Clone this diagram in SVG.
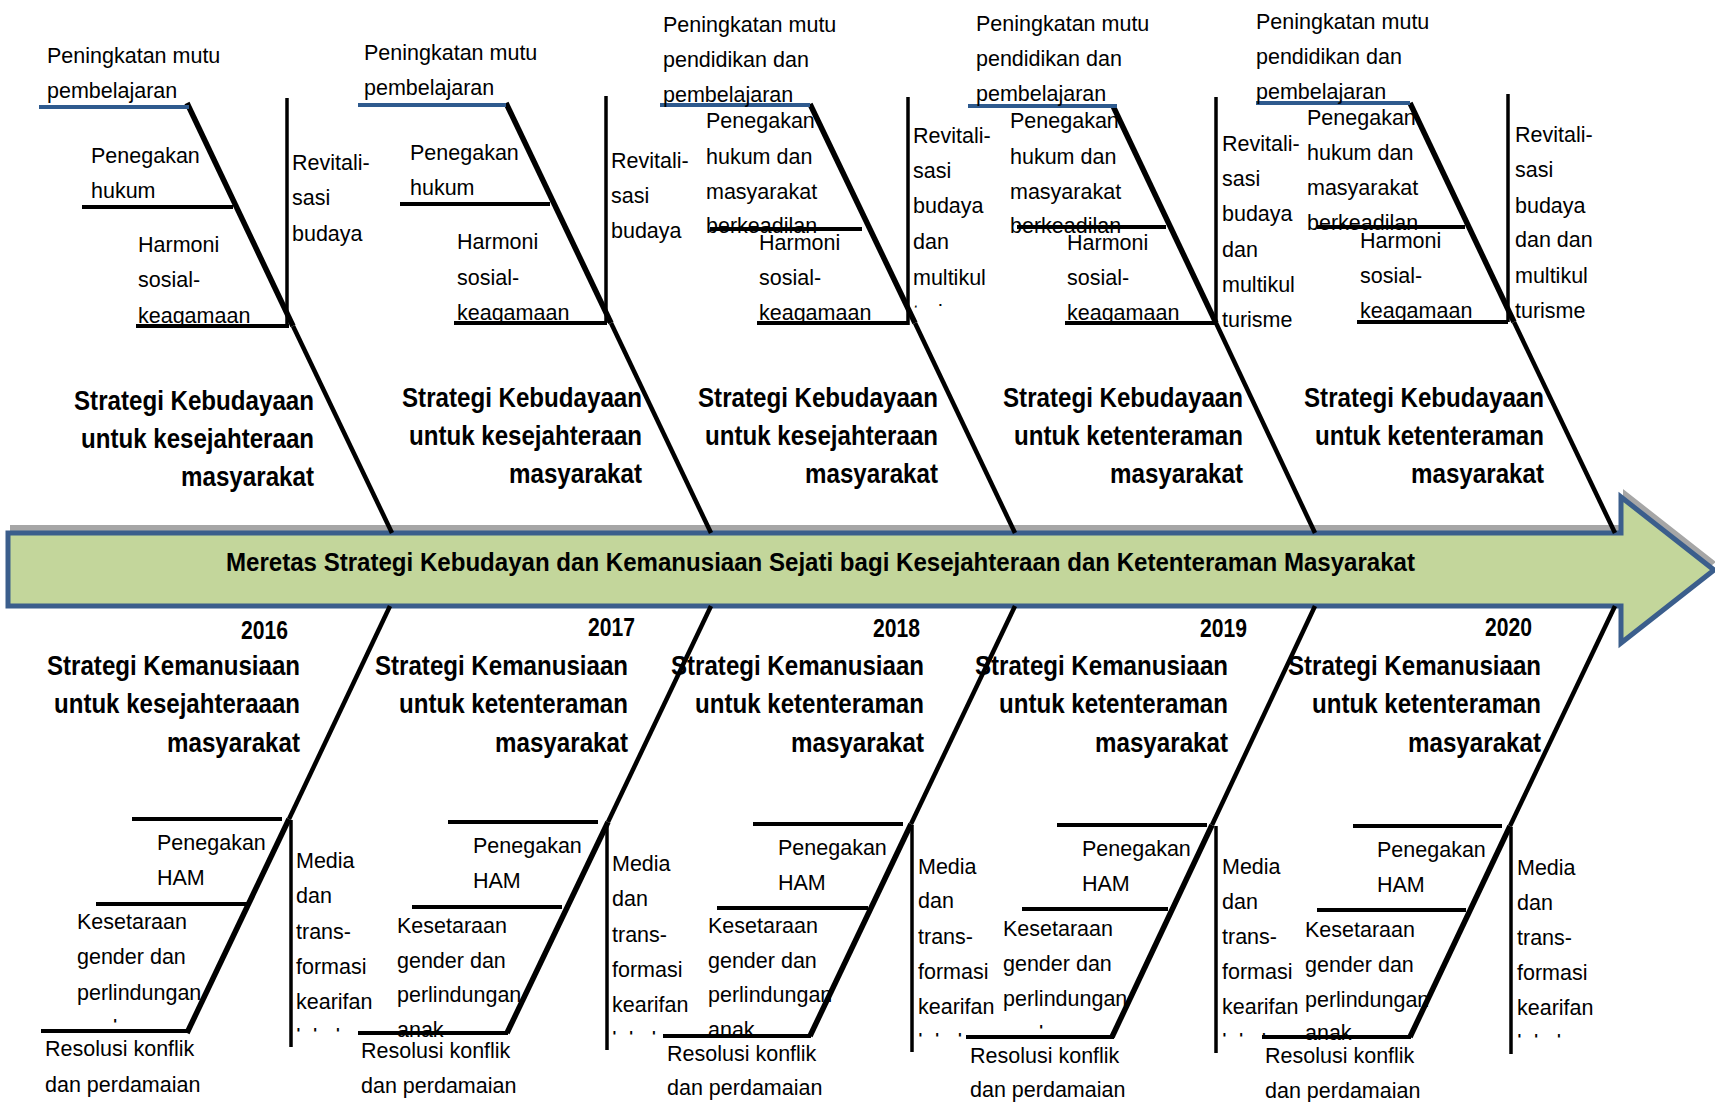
<svg xmlns="http://www.w3.org/2000/svg" width="1715" height="1102" viewBox="0 0 1715 1102">
<style>
.t{font-family:"Liberation Sans",Arial,sans-serif;font-size:21.5px;fill:#000}
.b{font-family:"Liberation Sans",Arial,sans-serif;font-size:27px;font-weight:bold;fill:#000}
.y{font-family:"Liberation Sans",Arial,sans-serif;font-size:25px;font-weight:bold;fill:#000}
.m{font-family:"Liberation Sans",Arial,sans-serif;font-size:25px;font-weight:bold;fill:#000}
.cut{clip-path:url(#top)}
.thick{stroke:#000;stroke-width:5.5;fill:none}
.thin{stroke:#000;stroke-width:4.5;fill:none}
.br{stroke:#000;stroke-width:4;fill:none}
.v{stroke:#000;stroke-width:3.5;fill:none}
.blue{stroke:#2E5A8E;stroke-width:4;fill:none}
</style>
<defs>
<clipPath id="top" clipPathUnits="objectBoundingBox"><rect x="0" y="0" width="1" height="0.27"/></clipPath>
</defs>
<rect width="1715" height="1102" fill="#fff"/>

<g id="spine">
<polygon points="8,533 1621,533 1621,497 1714,570 1621,643 1621,606 8,606" fill="#A6A6A6" transform="translate(2,-8)"/>
<polygon points="8,533 1621,533 1621,497 1714,570 1621,643 1621,606 8,606" fill="#C3D69B" stroke="#3B5E8C" stroke-width="5"/>
<text class="m" x="226" y="571" textLength="1189" lengthAdjust="spacingAndGlyphs">Meretas Strategi Kebudayan dan Kemanusiaan Sejati bagi Kesejahteraan dan Ketenteraman Masyarakat</text>
</g>

<g id="connectors">
<line class="thick" x1="187" y1="103" x2="293" y2="326"/><line class="thin" x1="293" y1="326" x2="392" y2="533"/>
<line class="thick" x1="506" y1="103" x2="611" y2="323"/><line class="thin" x1="611" y1="323" x2="711" y2="533"/>
<line class="thick" x1="810" y1="104" x2="915" y2="323"/><line class="thin" x1="915" y1="323" x2="1015" y2="533"/>
<line class="thick" x1="1113" y1="106" x2="1216" y2="323"/><line class="thin" x1="1216" y1="323" x2="1315" y2="533"/>
<line class="thick" x1="1410" y1="103" x2="1514" y2="322"/><line class="thin" x1="1514" y1="322" x2="1615" y2="533"/>
<line class="thin" x1="390" y1="606" x2="289" y2="819"/><line class="thick" x1="289" y1="819" x2="187" y2="1033"/>
<line class="thin" x1="711" y1="606" x2="608" y2="822"/><line class="thick" x1="608" y1="822" x2="507" y2="1033"/>
<line class="thin" x1="1015" y1="606" x2="911" y2="824"/><line class="thick" x1="911" y1="824" x2="810" y2="1036"/>
<line class="thin" x1="1315" y1="606" x2="1212" y2="825"/><line class="thick" x1="1212" y1="825" x2="1112" y2="1037"/>
<line class="thin" x1="1615" y1="606" x2="1510" y2="826"/><line class="thick" x1="1510" y1="826" x2="1410" y2="1037"/>

<line class="blue" x1="39" y1="107" x2="189" y2="107"/>
<line class="br" x1="82" y1="207" x2="233" y2="207"/>
<line class="br" x1="136" y1="326" x2="289" y2="326"/>
<line class="v" x1="287" y1="98" x2="287" y2="326"/>

<line class="blue" x1="358" y1="105" x2="506" y2="105"/>
<line class="br" x1="400" y1="204" x2="550" y2="204"/>
<line class="br" x1="454" y1="323" x2="607" y2="323"/>
<line class="v" x1="606" y1="96" x2="606" y2="323"/>

<line class="blue" x1="660" y1="105" x2="810" y2="105"/>
<line class="br" x1="710" y1="229" x2="862" y2="229"/>
<line class="br" x1="757" y1="323" x2="909" y2="323"/>
<line class="v" x1="908" y1="97" x2="908" y2="325"/>

<line class="blue" x1="968" y1="106" x2="1117" y2="106"/>
<line class="br" x1="1017" y1="227" x2="1166" y2="227"/>
<line class="br" x1="1065" y1="323" x2="1216" y2="323"/>
<line class="v" x1="1216" y1="97" x2="1216" y2="325"/>

<line class="blue" x1="1256" y1="103" x2="1410" y2="103"/>
<line class="br" x1="1317" y1="227" x2="1465" y2="227"/>
<line class="br" x1="1357" y1="322" x2="1508" y2="322"/>
<line class="v" x1="1508" y1="94" x2="1508" y2="322"/>

<line class="br" x1="132" y1="819" x2="282" y2="819"/>
<line class="br" x1="96" y1="904" x2="247" y2="904"/>
<line class="br" x1="41" y1="1031" x2="189" y2="1031"/>
<line class="v" x1="291" y1="820" x2="291" y2="1047"/>

<line class="br" x1="448" y1="822" x2="598" y2="822"/>
<line class="br" x1="412" y1="907" x2="562" y2="907"/>
<line class="br" x1="358" y1="1033" x2="508" y2="1033"/>
<line class="v" x1="607" y1="823" x2="607" y2="1050"/>

<line class="br" x1="753" y1="824" x2="903" y2="824"/>
<line class="br" x1="717" y1="908" x2="868" y2="908"/>
<line class="br" x1="663" y1="1036" x2="811" y2="1036"/>
<line class="v" x1="912" y1="825" x2="912" y2="1052"/>

<line class="br" x1="1057" y1="825" x2="1207" y2="825"/>
<line class="br" x1="1022" y1="909" x2="1168" y2="909"/>
<line class="br" x1="966" y1="1037" x2="1114" y2="1037"/>
<line class="v" x1="1216" y1="826" x2="1216" y2="1053"/>

<line class="br" x1="1353" y1="826" x2="1502" y2="826"/>
<line class="br" x1="1317" y1="910" x2="1466" y2="910"/>
<line class="br" x1="1262" y1="1037" x2="1411" y2="1037"/>
<line class="v" x1="1511" y1="827" x2="1511" y2="1054"/>
</g>

<g id="upper-2016">
<text class="t" x="47" y="63">Peningkatan mutu</text>
<text class="t" x="47" y="98">pembelajaran</text>
<text class="t" x="91" y="163">Penegakan</text>
<text class="t" x="91" y="198">hukum</text>
<text class="t" x="138" y="252">Harmoni</text>
<text class="t" x="138" y="287">sosial-</text>
<text class="t" x="138" y="323">keagamaan</text>
<text class="t" x="292" y="170">Revitali-</text>
<text class="t" x="292" y="205">sasi</text>
<text class="t" x="292" y="241">budaya</text>
<text class="b" x="74" y="410" textLength="240" lengthAdjust="spacingAndGlyphs">Strategi Kebudayaan</text>
<text class="b" x="81" y="448" textLength="233" lengthAdjust="spacingAndGlyphs">untuk kesejahteraan</text>
<text class="b" x="181" y="486" textLength="133" lengthAdjust="spacingAndGlyphs">masyarakat</text>
</g>

<g id="upper-2017">
<text class="t" x="364" y="60">Peningkatan mutu</text>
<text class="t" x="364" y="95">pembelajaran</text>
<text class="t" x="410" y="160">Penegakan</text>
<text class="t" x="410" y="195">hukum</text>
<text class="t" x="457" y="249">Harmoni</text>
<text class="t" x="457" y="285">sosial-</text>
<text class="t" x="457" y="320">keagamaan</text>
<text class="t" x="611" y="168">Revitali-</text>
<text class="t" x="611" y="203">sasi</text>
<text class="t" x="611" y="238">budaya</text>
<text class="b" x="402" y="407" textLength="240" lengthAdjust="spacingAndGlyphs">Strategi Kebudayaan</text>
<text class="b" x="409" y="445" textLength="233" lengthAdjust="spacingAndGlyphs">untuk kesejahteraan</text>
<text class="b" x="509" y="483" textLength="133" lengthAdjust="spacingAndGlyphs">masyarakat</text>
</g>

<g id="upper-2018">
<text class="t" x="663" y="32">Peningkatan mutu</text>
<text class="t" x="663" y="67">pendidikan dan</text>
<text class="t" x="663" y="102">pembelajaran</text>
<text class="t" x="706" y="128">Penegakan</text>
<text class="t" x="706" y="164">hukum dan</text>
<text class="t" x="706" y="199">masyarakat</text>
<text class="t" x="706" y="233">berkeadilan</text>
<text class="t" x="759" y="250">Harmoni</text>
<text class="t" x="759" y="285">sosial-</text>
<text class="t" x="759" y="320">keagamaan</text>
<text class="t" x="913" y="143">Revitali-</text>
<text class="t" x="913" y="178">sasi</text>
<text class="t" x="913" y="213">budaya</text>
<text class="t" x="913" y="249">dan</text>
<text class="t" x="913" y="285">multikul</text>
<text class="t cut" x="913" y="320">turisme</text>
<text class="b" x="698" y="407" textLength="240" lengthAdjust="spacingAndGlyphs">Strategi Kebudayaan</text>
<text class="b" x="705" y="445" textLength="233" lengthAdjust="spacingAndGlyphs">untuk kesejahteraan</text>
<text class="b" x="805" y="483" textLength="133" lengthAdjust="spacingAndGlyphs">masyarakat</text>
</g>

<g id="upper-2019">
<text class="t" x="976" y="31">Peningkatan mutu</text>
<text class="t" x="976" y="66">pendidikan dan</text>
<text class="t" x="976" y="101">pembelajaran</text>
<text class="t" x="1010" y="128">Penegakan</text>
<text class="t" x="1010" y="164">hukum dan</text>
<text class="t" x="1010" y="199">masyarakat</text>
<text class="t" x="1010" y="233">berkeadilan</text>
<text class="t" x="1067" y="250">Harmoni</text>
<text class="t" x="1067" y="285">sosial-</text>
<text class="t" x="1067" y="320">keagamaan</text>
<text class="t" x="1222" y="151">Revitali-</text>
<text class="t" x="1222" y="186">sasi</text>
<text class="t" x="1222" y="221">budaya</text>
<text class="t" x="1222" y="257">dan</text>
<text class="t" x="1222" y="292">multikul</text>
<text class="t" x="1222" y="327">turisme</text>
<text class="b" x="1003" y="407" textLength="240" lengthAdjust="spacingAndGlyphs">Strategi Kebudayaan</text>
<text class="b" x="1014" y="445" textLength="229" lengthAdjust="spacingAndGlyphs">untuk ketenteraman</text>
<text class="b" x="1110" y="483" textLength="133" lengthAdjust="spacingAndGlyphs">masyarakat</text>
</g>

<g id="upper-2020">
<text class="t" x="1256" y="29">Peningkatan mutu</text>
<text class="t" x="1256" y="64">pendidikan dan</text>
<text class="t" x="1256" y="99">pembelajaran</text>
<text class="t" x="1307" y="125">Penegakan</text>
<text class="t" x="1307" y="160">hukum dan</text>
<text class="t" x="1307" y="195">masyarakat</text>
<text class="t" x="1307" y="230">berkeadilan</text>
<text class="t" x="1360" y="248">Harmoni</text>
<text class="t" x="1360" y="283">sosial-</text>
<text class="t" x="1360" y="318">keagamaan</text>
<text class="t" x="1515" y="142">Revitali-</text>
<text class="t" x="1515" y="177">sasi</text>
<text class="t" x="1515" y="213">budaya</text>
<text class="t" x="1515" y="247">dan dan</text>
<text class="t" x="1515" y="283">multikul</text>
<text class="t" x="1515" y="318">turisme</text>
<text class="b" x="1304" y="407" textLength="240" lengthAdjust="spacingAndGlyphs">Strategi Kebudayaan</text>
<text class="b" x="1315" y="445" textLength="229" lengthAdjust="spacingAndGlyphs">untuk ketenteraman</text>
<text class="b" x="1411" y="483" textLength="133" lengthAdjust="spacingAndGlyphs">masyarakat</text>
</g>

<g id="lower-2016">
<text class="y" x="241" y="639" textLength="47" lengthAdjust="spacingAndGlyphs">2016</text>
<text class="b" x="47" y="675" textLength="253" lengthAdjust="spacingAndGlyphs">Strategi Kemanusiaan</text>
<text class="b" x="54" y="713" textLength="246" lengthAdjust="spacingAndGlyphs">untuk kesejahteraaan</text>
<text class="b" x="167" y="752" textLength="133" lengthAdjust="spacingAndGlyphs">masyarakat</text>
<text class="t" x="157" y="850">Penegakan</text>
<text class="t" x="157" y="885">HAM</text>
<text class="t" x="77" y="929">Kesetaraan</text>
<text class="t" x="77" y="964">gender dan</text>
<text class="t" x="77" y="1000">perlindungan</text>
<text class="t cut" x="77" y="1035">anak</text>
<text class="t" x="45" y="1056">Resolusi konflik</text>
<text class="t" x="45" y="1092">dan perdamaian</text>
<text class="t" x="296" y="868">Media</text>
<text class="t" x="296" y="903">dan</text>
<text class="t" x="296" y="939">trans-</text>
<text class="t" x="296" y="974">formasi</text>
<text class="t" x="296" y="1009">kearifan</text>
<text class="t cut" x="296" y="1044">lokal</text>
</g>

<g id="lower-2017">
<text class="y" x="588" y="636" textLength="47" lengthAdjust="spacingAndGlyphs">2017</text>
<text class="b" x="375" y="675" textLength="253" lengthAdjust="spacingAndGlyphs">Strategi Kemanusiaan</text>
<text class="b" x="399" y="713" textLength="229" lengthAdjust="spacingAndGlyphs">untuk ketenteraman</text>
<text class="b" x="495" y="752" textLength="133" lengthAdjust="spacingAndGlyphs">masyarakat</text>
<text class="t" x="473" y="853">Penegakan</text>
<text class="t" x="473" y="888">HAM</text>
<text class="t" x="397" y="933">Kesetaraan</text>
<text class="t" x="397" y="968">gender dan</text>
<text class="t" x="397" y="1002">perlindungan</text>
<text class="t" x="397" y="1037">anak</text>
<text class="t" x="361" y="1058">Resolusi konflik</text>
<text class="t" x="361" y="1093">dan perdamaian</text>
<text class="t" x="612" y="871">Media</text>
<text class="t" x="612" y="906">dan</text>
<text class="t" x="612" y="942">trans-</text>
<text class="t" x="612" y="977">formasi</text>
<text class="t" x="612" y="1012">kearifan</text>
<text class="t cut" x="612" y="1047">lokal</text>
</g>

<g id="lower-2018">
<text class="y" x="873" y="637" textLength="47" lengthAdjust="spacingAndGlyphs">2018</text>
<text class="b" x="671" y="675" textLength="253" lengthAdjust="spacingAndGlyphs">Strategi Kemanusiaan</text>
<text class="b" x="695" y="713" textLength="229" lengthAdjust="spacingAndGlyphs">untuk ketenteraman</text>
<text class="b" x="791" y="752" textLength="133" lengthAdjust="spacingAndGlyphs">masyarakat</text>
<text class="t" x="778" y="855">Penegakan</text>
<text class="t" x="778" y="890">HAM</text>
<text class="t" x="708" y="933">Kesetaraan</text>
<text class="t" x="708" y="968">gender dan</text>
<text class="t" x="708" y="1002">perlindungan</text>
<text class="t" x="708" y="1037">anak</text>
<text class="t" x="667" y="1061">Resolusi konflik</text>
<text class="t" x="667" y="1095">dan perdamaian</text>
<text class="t" x="918" y="874">Media</text>
<text class="t" x="918" y="908">dan</text>
<text class="t" x="918" y="944">trans-</text>
<text class="t" x="918" y="979">formasi</text>
<text class="t" x="918" y="1014">kearifan</text>
<text class="t cut" x="918" y="1049">lokal</text>
</g>

<g id="lower-2019">
<text class="y" x="1200" y="637" textLength="47" lengthAdjust="spacingAndGlyphs">2019</text>
<text class="b" x="975" y="675" textLength="253" lengthAdjust="spacingAndGlyphs">Strategi Kemanusiaan</text>
<text class="b" x="999" y="713" textLength="229" lengthAdjust="spacingAndGlyphs">untuk ketenteraman</text>
<text class="b" x="1095" y="752" textLength="133" lengthAdjust="spacingAndGlyphs">masyarakat</text>
<text class="t" x="1082" y="856">Penegakan</text>
<text class="t" x="1082" y="891">HAM</text>
<text class="t" x="1003" y="936">Kesetaraan</text>
<text class="t" x="1003" y="971">gender dan</text>
<text class="t" x="1003" y="1006">perlindungan</text>
<text class="t cut" x="1003" y="1041">anak</text>
<text class="t" x="970" y="1063">Resolusi konflik</text>
<text class="t" x="970" y="1097">dan perdamaian</text>
<text class="t" x="1222" y="874">Media</text>
<text class="t" x="1222" y="909">dan</text>
<text class="t" x="1222" y="944">trans-</text>
<text class="t" x="1222" y="979">formasi</text>
<text class="t" x="1222" y="1014">kearifan</text>
<text class="t cut" x="1222" y="1049">lokal</text>
</g>

<g id="lower-2020">
<text class="y" x="1485" y="636" textLength="47" lengthAdjust="spacingAndGlyphs">2020</text>
<text class="b" x="1288" y="675" textLength="253" lengthAdjust="spacingAndGlyphs">Strategi Kemanusiaan</text>
<text class="b" x="1312" y="713" textLength="229" lengthAdjust="spacingAndGlyphs">untuk ketenteraman</text>
<text class="b" x="1408" y="752" textLength="133" lengthAdjust="spacingAndGlyphs">masyarakat</text>
<text class="t" x="1377" y="857">Penegakan</text>
<text class="t" x="1377" y="892">HAM</text>
<text class="t" x="1305" y="937">Kesetaraan</text>
<text class="t" x="1305" y="972">gender dan</text>
<text class="t" x="1305" y="1007">perlindungan</text>
<text class="t" x="1305" y="1040">anak</text>
<text class="t" x="1265" y="1063">Resolusi konflik</text>
<text class="t" x="1265" y="1098">dan perdamaian</text>
<text class="t" x="1517" y="875">Media</text>
<text class="t" x="1517" y="910">dan</text>
<text class="t" x="1517" y="945">trans-</text>
<text class="t" x="1517" y="980">formasi</text>
<text class="t" x="1517" y="1015">kearifan</text>
<text class="t cut" x="1517" y="1050">lokal</text>
</g>
</svg>
